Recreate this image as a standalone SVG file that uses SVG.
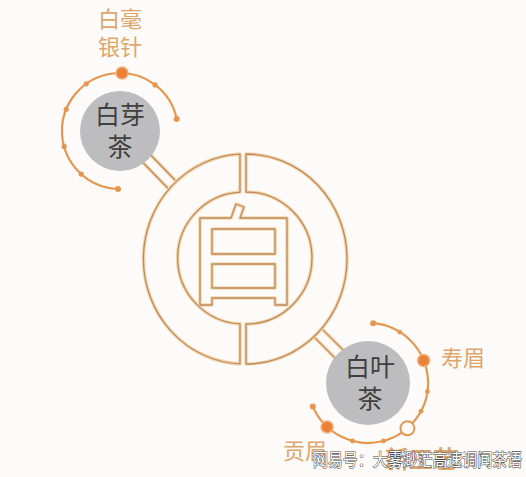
<svg xmlns="http://www.w3.org/2000/svg" xmlns:xlink="http://www.w3.org/1999/xlink" width="526" height="477" viewBox="0 0 526 477">
<style>
.bg{fill:#fcfbf9}
.glow{fill:none;stroke:#f7d6ae;stroke-width:3.6;stroke-linejoin:round}
.ln{fill:none;stroke:#b98d60;stroke-width:1.3;stroke-linejoin:round}
.ringfill{fill:#fcfbf9;stroke:none}
.gray{fill:#bdbcbe}
.orbit{fill:none;stroke:#e5974f;stroke-width:2.2;stroke-linecap:round}
.dot{fill:#e5974f}
.big{fill:#ea8136;stroke:#f4b27c;stroke-width:1.5}
.tan{font-family:"Noto Sans CJK SC","Noto Sans",sans-serif;fill:#dea66c;font-size:22px}
.dark{font-family:"Noto Sans CJK SC","Noto Sans",sans-serif;fill:#3f3f3f;font-size:25px;text-anchor:middle}
.wm{font-family:"Noto Sans CJK SC","Noto Sans",sans-serif;font-size:17px;fill:#ffffff;stroke:#4a4a4a;stroke-width:1.1;paint-order:stroke}
</style>
<defs>
<path id="leftHalf" d="M240,154.1 A101,105 0 0 0 240,363.9 L240,323.9 A66,66 0 0 1 240,192.1 Z"/>
<path id="rightHalf" d="M246,154.0 A101,105 0 1 1 246,364.0 L246,324.0 A66,66 0 1 0 246,192.0 Z"/>
<path id="bai" d="M200,218 H231 L236,204 L244,207 L240,218 H287 V305 H275 V298 H212 V305 H200 Z M212,229 H275 V254 H212 Z M212,264 H275 V288 H212 Z"/>
</defs>
<rect class="bg" x="0" y="0" width="526" height="477"/>

<g id="connectors">
  <g id="conn-baiya">
    <line class="glow" x1="123.9" y1="127.2" x2="188.7" y2="194.2"/>
    <line class="glow" x1="116.1" y1="134.8" x2="180.9" y2="201.8"/>
    <line class="ln" x1="123.9" y1="127.2" x2="188.7" y2="194.2"/>
    <line class="ln" x1="116.1" y1="134.8" x2="180.9" y2="201.8"/>
  </g>
  <g id="conn-baiye">
    <line class="glow" x1="308.1" y1="315.1" x2="372.2" y2="379.1"/>
    <line class="glow" x1="300.1" y1="323.1" x2="364.1" y2="387.1"/>
    <line class="ln" x1="308.1" y1="315.1" x2="372.2" y2="379.1"/>
    <line class="ln" x1="300.1" y1="323.1" x2="364.1" y2="387.1"/>
  </g>
</g>

<g id="main-bai">
  <use xlink:href="#leftHalf" class="ringfill"/>
  <use xlink:href="#rightHalf" class="ringfill"/>
  <use xlink:href="#leftHalf" class="glow"/>
  <use xlink:href="#rightHalf" class="glow"/>
  <use xlink:href="#bai" class="glow"/>
  <use xlink:href="#leftHalf" class="ln"/>
  <use xlink:href="#rightHalf" class="ln"/>
  <use xlink:href="#bai" class="ln"/>
</g>

<g id="baiya">
  <path class="orbit" d="M176.7,118.9 A58,58 0 1 0 118,189"/>
  <circle class="dot" cx="176.7" cy="118.9" r="3"/>
  <circle class="dot" cx="118" cy="189" r="3"/>
  <circle class="dot" cx="86.3" cy="83.8" r="2.6"/>
  <circle class="dot" cx="155.1" cy="84.9" r="2.6"/>
  <circle class="dot" cx="66.2" cy="109.3" r="2.6"/>
  <circle class="dot" cx="64.1" cy="146.4" r="2.6"/>
  <circle class="dot" cx="81.2" cy="174.1" r="2.6"/>
  <circle class="big" cx="122" cy="73" r="6"/>
  <circle class="gray" cx="120" cy="131" r="40"/>
  <text class="dark" x="120" y="124">白芽</text>
  <text class="dark" x="120" y="156">茶</text>
</g>

<g id="baihao">
  <text class="tan" x="98" y="27">白毫</text>
  <text class="tan" x="98" y="55">银针</text>
</g>

<g id="baiye">
  <path class="orbit" d="M373.2,323.2 A60,60 0 1 1 312.8,406.4"/>
  <circle class="dot" cx="373.2" cy="323.2" r="3"/>
  <circle class="dot" cx="312.8" cy="406.4" r="3"/>
  <circle class="dot" cx="399.8" cy="332.1" r="2.4"/>
  <circle class="dot" cx="427.4" cy="391.4" r="2.4"/>
  <circle class="dot" cx="421" cy="411.2" r="2.4"/>
  <circle class="dot" cx="383.5" cy="441" r="2.4"/>
  <circle class="dot" cx="352.5" cy="441" r="2.4"/>
  <circle class="big" cx="423.6" cy="360.5" r="6"/>
  <circle class="big" cx="327.1" cy="426.9" r="6"/>
  <circle cx="407.4" cy="428.3" r="7" fill="#fcfbf9" stroke="#e5974f" stroke-width="2"/>
  <circle class="gray" cx="368" cy="383" r="42"/>
  <text class="dark" x="370" y="376">白叶</text>
  <text class="dark" x="370" y="408">茶</text>
</g>

<g id="shoumei">
  <text class="tan" x="441" y="366">寿眉</text>
</g>
<g id="gongmei">
  <text class="tan" x="283" y="459">贡眉</text>
</g>
<g id="xingongyi">
  <text class="tan" x="385" y="468" style="font-size:24px;font-weight:bold">新工艺</text>
</g>
<g id="watermark">
  <text class="wm" x="313" y="466" textLength="209" lengthAdjust="spacingAndGlyphs">网易号：大雾渺茫高速调闻茶语</text>
</g>
</svg>
